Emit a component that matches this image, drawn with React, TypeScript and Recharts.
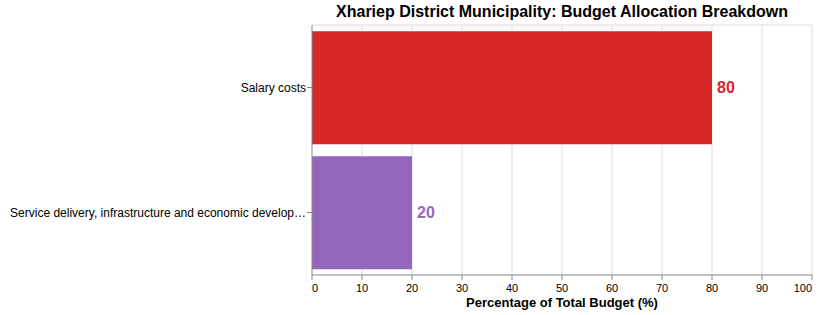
import { BarChart, Bar, XAxis, YAxis, CartesianGrid, Cell, LabelList } from "recharts";

const categories = ["Salary costs", "Service delivery, infrastructure and economic development"];
const percentages = [80, 20];
const barColors = ["#d62728", "#9467bd"];
const xTicks = [0, 10, 20, 30, 40, 50, 60, 70, 80, 90, 100];

const data = categories.map((name, i) => ({ name, value: percentages[i] }));

const FONT = "Liberation Sans, Arial, sans-serif";

// vega-style flush labels: first tick left-aligned, last right-aligned
const XTick = ({ x, y, payload, index }: any) => {
    let anchor = "middle";
    if (index === 0) anchor = "start";
    if (index === xTicks.length - 1) anchor = "end";
    return (
        <text x={x} y={y + 2} textAnchor={anchor} dominantBaseline="hanging" fontSize={11} fill="#000" fontFamily={FONT}>
            {payload.value}
        </text>
    );
};

const truncate = (s: string) => (s.length > 53 ? s.slice(0, 53) + "…" : s);

// single-line y labels (no wrapping)
const YTick = ({ x, y, payload }: any) => (
    <text x={x + 1} y={y} textAnchor="end" dominantBaseline="central" fontSize={12} fill="#000" fontFamily={FONT}>
        {truncate(payload.value)}
    </text>
);

const ValueLabel = ({ x, y, width, height, value, index }: any) => (
    <text
        x={x + width + 5}
        y={y + height / 2}
        dominantBaseline="central"
        fontSize={16}
        fontWeight="bold"
        fill={barColors[index]}
        fontFamily={FONT}
    >
        {value}
    </text>
);

export default function App() {
    return (
        <div style={{ position: "absolute", left: 0, top: 0, width: 818, height: 315, fontFamily: FONT }}>
            <div
                style={{
                    position: "absolute",
                    left: 312,
                    width: 500,
                    top: 3,
                    textAlign: "center",
                    fontSize: 16,
                    fontWeight: "bold",
                    color: "#000",
                }}
            >
                Xhariep District Municipality: Budget Allocation Breakdown
            </div>
            <BarChart
                width={818}
                height={315}
                data={data}
                layout="vertical"
                margin={{ top: 25, right: 6, bottom: 0, left: 0 }}
                barCategoryGap="5%"
            >
                <CartesianGrid stroke="#ddd" horizontalPoints={[25]} verticalPoints={[362, 412, 462, 512, 562, 612, 662, 712, 762, 812]} />
                <XAxis
                    type="number"
                    dataKey="value"
                    domain={[0, 100]}
                    ticks={xTicks}
                    interval={0}
                    stroke="#888"
                    tickSize={5}
                    tick={<XTick />}
                    height={40}
                    label={{
                        value: "Percentage of Total Budget (%)",
                        position: "insideBottom",
                        offset: 8,
                        fontSize: 13,
                        fontWeight: "bold",
                        fill: "#000",
                        fontFamily: FONT,
                    }}
                />
                <YAxis
                    type="category"
                    dataKey="name"
                    width={312}
                    stroke="#888"
                    tickSize={5}
                    tick={<YTick />}
                />
                <Bar dataKey="value" isAnimationActive={false}>
                    {data.map((entry, i) => (
                        <Cell key={entry.name} fill={barColors[i]} />
                    ))}
                    <LabelList dataKey="value" content={<ValueLabel />} />
                </Bar>
            </BarChart>
        </div>
    );
}
